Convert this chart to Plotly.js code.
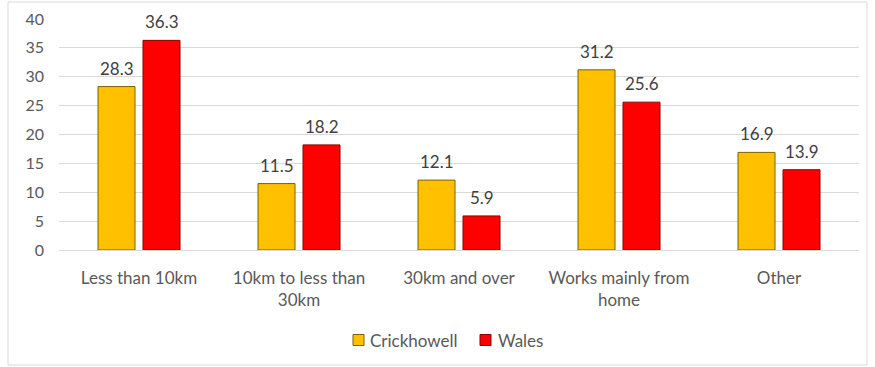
<!DOCTYPE html>
<html>
<head>
<meta charset="utf-8">
<script src="https://cdn.plot.ly/plotly-3.0.1.min.js"></script>
<style>
  html, body { margin: 0; padding: 0; background: #ffffff; }
  #chart { width: 875px; height: 367px; }
</style>
</head>
<body>
<div id="chart"></div>
<script>
// Distance travelled to work (%)
const categories = [
  "Less than 10km",
  "10km to less than<br>30km",
  "30km and over",
  "Works mainly from<br>home",
  "Other"
];
const seriesNames = ["Crickhowell", "Wales"];
const crickhowell = [28.3, 11.5, 12.1, 31.2, 16.9];
const wales = [36.3, 18.2, 5.9, 25.6, 13.9];
const yTicks = [0, 5, 10, 15, 20, 25, 30, 35, 40];

const FONT = "Lato, 'Open Sans', sans-serif";
const TEXT = "#595959";
const FILLS = ["#FFC000", "#FF0000"];
const EDGES = ["#7F6000", "#8B0000"];

// plot area geometry (px) used to place the hand-drawn legend and frame
const W = 875, H = 367;
const M = { l: 59, r: 16, t: 19, b: 117 };
const PW = W - M.l - M.r, PH = H - M.t - M.b;
const px = x => (x - M.l) / PW;
const py = y => (H - M.b - y) / PH;

const BARGAP = 0.4375, GROUPGAP = 0.178;
// half of one series' slot within a category group, in px
const slotHalf = (PW / categories.length) * (1 - BARGAP) / 4;

function barTrace(i, values) {
  return {
    type: "bar",
    name: seriesNames[i],
    x: categories,
    y: values,
    marker: { color: FILLS[i], line: { color: EDGES[i], width: 1 } },
    hoverinfo: "x+y+name"
  };
}

const seriesValues = [crickhowell, wales];
const data = seriesValues.map((v, i) => barTrace(i, v));

// value labels sitting above each bar
const annotations = [];
seriesValues.forEach((values, i) => {
  values.forEach((v, j) => {
    annotations.push({
      xref: "x", yref: "y",
      x: categories[j], y: v,
      xshift: (i === 0 ? -1 : 1) * slotHalf,
      yshift: 6,
      xanchor: "center", yanchor: "bottom",
      text: v.toFixed(1), showarrow: false,
      font: { family: FONT, size: 17, color: "#404040" }
    });
  });
});

// compact legend: small outlined squares with the series names beside them
const legendItems = [
  { sq: 353, tx: 368 },
  { sq: 480, tx: 496 }
];
const legendY = 340, sqSize = 11;
const shapes = legendItems.map((it, i) => ({
  type: "rect", xref: "paper", yref: "paper",
  x0: px(it.sq), x1: px(it.sq + sqSize),
  y0: py(legendY + sqSize / 2), y1: py(legendY - sqSize / 2),
  fillcolor: FILLS[i], line: { color: EDGES[i], width: 1 }
}));
shapes.push({
  type: "rect", xref: "paper", yref: "paper",
  x0: px(8), x1: px(867), y0: py(365), y1: py(2),
  line: { color: "#d9d9d9", width: 1 },
  fillcolor: "rgba(0,0,0,0)", layer: "below"
});
legendItems.forEach((it, i) => annotations.push({
  xref: "paper", yref: "paper",
  x: px(it.tx), y: py(legendY),
  xanchor: "left", yanchor: "middle",
  text: seriesNames[i], showarrow: false,
  font: { family: FONT, size: 17, color: TEXT }
}));

const layout = {
  width: W,
  height: H,
  margin: M,
  paper_bgcolor: "#ffffff",
  plot_bgcolor: "#ffffff",
  font: { family: FONT, size: 17, color: TEXT },
  barmode: "group",
  bargap: BARGAP,
  bargroupgap: GROUPGAP,
  showlegend: false,
  xaxis: {
    type: "category",
    showgrid: false,
    showline: false,
    ticks: "",
    ticklabelstandoff: 16,
    tickfont: { family: FONT, size: 17, color: TEXT },
    automargin: false
  },
  yaxis: {
    range: [0, 40],
    tickvals: yTicks,
    ticktext: yTicks.map(String),
    showgrid: true,
    gridcolor: "#d9d9d9",
    gridwidth: 1,
    zeroline: true,
    zerolinecolor: "#d9d9d9",
    zerolinewidth: 1,
    showline: false,
    ticks: "",
    ticklabelstandoff: 14,
    tickfont: { family: FONT, size: 16, color: TEXT },
    automargin: false,
    fixedrange: true
  },
  shapes: shapes,
  annotations: annotations
};

Plotly.newPlot("chart", data, layout, { displayModeBar: false, staticPlot: true });
</script>
</body>
</html>
